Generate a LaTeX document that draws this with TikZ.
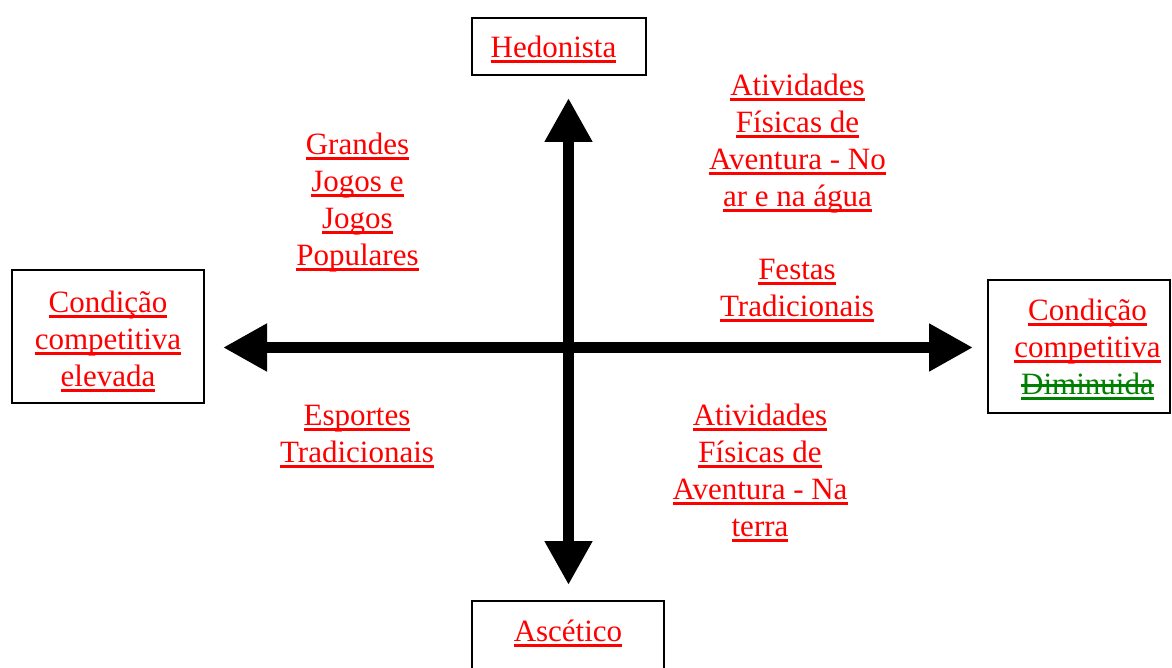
\documentclass[tikz,border=0pt]{standalone}
\usepackage{fontspec}
\setmainfont{Liberation Serif}
\usetikzlibrary{arrows.meta}
\definecolor{wordred}{RGB}{255,0,0}
\definecolor{wordgreen}{RGB}{0,128,0}
\newcommand\ulx[1]{\setbox0=\hbox{#1}\rlap{\rule[-5.1pt]{\wd0}{2.6pt}}\box0}
\newcommand\strikeul[1]{\setbox0=\hbox{#1}\rlap{\rule[-5.1pt]{\wd0}{2.6pt}}\rlap{\rule[0.26em]{\wd0}{2.5pt}}\box0}
\begin{document}
\begin{tikzpicture}[x=1pt,y=-1pt,
  txt/.style={align=center, inner sep=0pt, text=wordred, font=\fontsize{31}{37}\selectfont},
  box/.style={txt, draw=black, line width=1.6pt},
  axis/.style={line width=11.5pt, arrows={Triangle[length=44pt,width=45pt]-Triangle[length=44pt,width=45pt]}}]
\fill[white] (0,0) rectangle (1172,668);
\useasboundingbox (0,0) rectangle (1172,668);

% boxes
\node[box, minimum width=174pt, text height=40pt, text depth=17pt] (hed) at (559,46.5) {\hspace*{-11pt}\ulx{Hedonista}};
\node[box, anchor=north, minimum width=192pt, text height=41pt, text depth=60pt] (asc) at (568,600) {\ulx{Ascético}};
\node[box, minimum width=192pt, minimum height=133pt] (elev) at (108,336.5) {\rule{0pt}{31pt}\ulx{Condição}\\\ulx{competitiva}\\\ulx{elevada}};
\node[box, minimum width=182pt, minimum height=133pt] (dimi) at (1079,346.5) {\rule{0pt}{28pt}\hspace*{17pt}\ulx{Condição}\\\hspace*{17pt}\ulx{competitiva}\\\hspace*{17pt}{\color{wordgreen}\strikeul{Diminuida}}};

% quadrant labels
\node[txt] (grandes) at (357.5,202.5) {\ulx{Grandes}\\\ulx{Jogos e}\\\ulx{Jogos}\\\ulx{Populares}};
\node[txt] (advar) at (797.5,143.5) {\ulx{Atividades}\\\ulx{Físicas de}\\\ulx{Aventura - No}\\\ulx{ar e na água}};
\node[txt] (festas) at (797,290.5) {\ulx{Festas}\\\ulx{Tradicionais}};
\node[txt] (esportes) at (357,436.5) {\ulx{Esportes}\\\ulx{Tradicionais}};
\node[txt] (advterra) at (760,473) {\ulx{Atividades}\\\ulx{Físicas de}\\\ulx{Aventura - Na}\\\ulx{terra}};

% axes
\coordinate (L) at (223,347.5);
\coordinate (R) at (973,347.5);
\coordinate (T) at (568.5,98);
\coordinate (B) at (568.5,585);
\draw[axis] (L) -- (R);
\draw[axis] (T) -- (B);
\end{tikzpicture}
\end{document}
